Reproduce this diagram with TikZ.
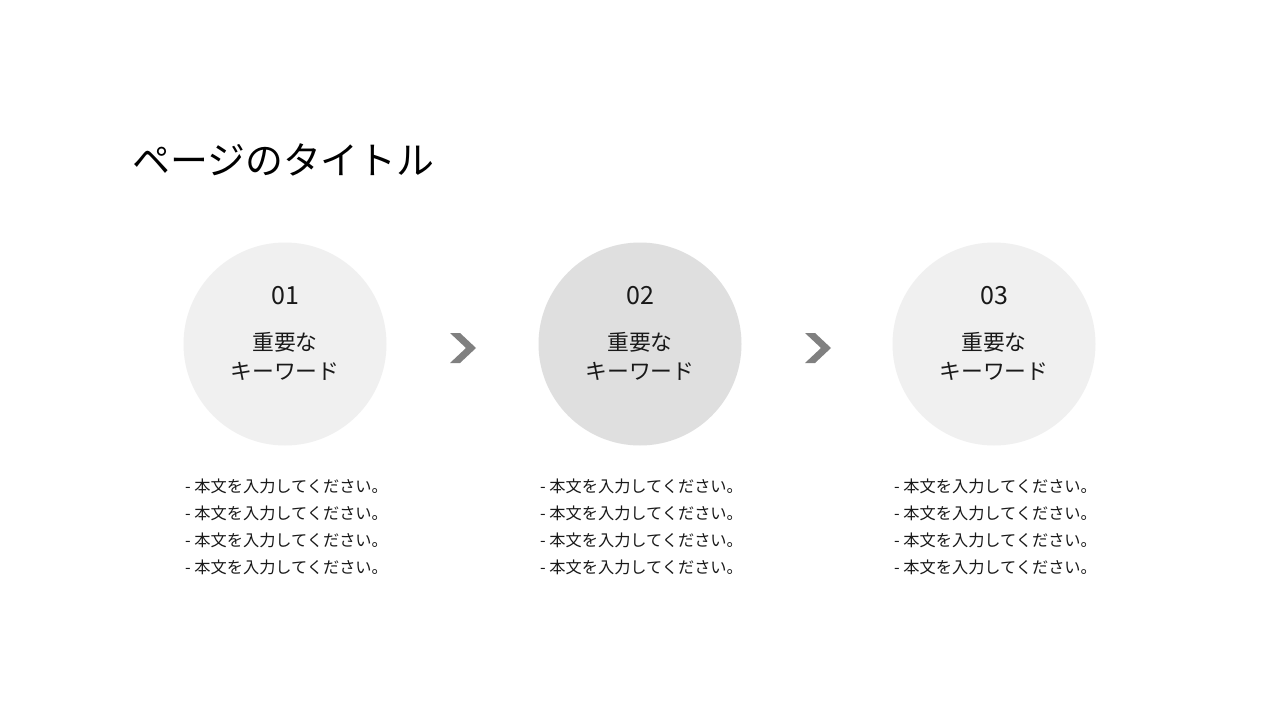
\documentclass[tikz,border=0pt]{standalone}
\usepackage{fontspec}
\setmainfont{Noto Sans CJK JP}
\begin{document}
\begin{tikzpicture}[x=1pt,y=-1pt,
  stepcircle/.style={circle,minimum size=203pt,inner sep=0pt},
  numlabel/.style={font=\fontsize{25}{28}\selectfont,text=black!90},
  keylabel/.style={font=\fontsize{21.8}{29}\selectfont,align=center,text=black!90},
  bodytext/.style={font=\fontsize{16.2}{27}\selectfont,align=left,anchor=north west,inner sep=0pt,text=black!90},
  chevron/.style={fill=black!50,draw=none}]
\fill[white] (0,0) rectangle (1280,720);
\path[use as bounding box] (0,0) rectangle (1280,720);
\node[anchor=west,inner sep=0pt,font=\fontsize{37.9}{42}\selectfont] (title) at (132,160) {ページのタイトル};
\foreach \i/\x/\c in {1/285/black!6,2/640/black!12.5,3/994/black!6}{
  \node[stepcircle,fill=\c] (c\i) at (\x,344) {};
  \node[numlabel] (n\i) at (\x,296) {0\i};
  \node[keylabel] (k\i) at (\x,356) {重要な\\キーワード};
  \node[bodytext] (b\i) at (\x-100,479) {- 本文を入力してください。\\- 本文を入力してください。\\- 本文を入力してください。\\- 本文を入力してください。};
}
\foreach \j/\x in {1/450,2/805}{
  \coordinate (a\j) at (\x,348);
  \fill[chevron] ([shift={(0,-15)}]a\j) -- ([shift={(10,-15)}]a\j) -- ([shift={(26,0)}]a\j) -- ([shift={(10,15)}]a\j) -- ([shift={(0,15)}]a\j) -- ([shift={(16,0)}]a\j) -- cycle;
}
\end{tikzpicture}
\end{document}
